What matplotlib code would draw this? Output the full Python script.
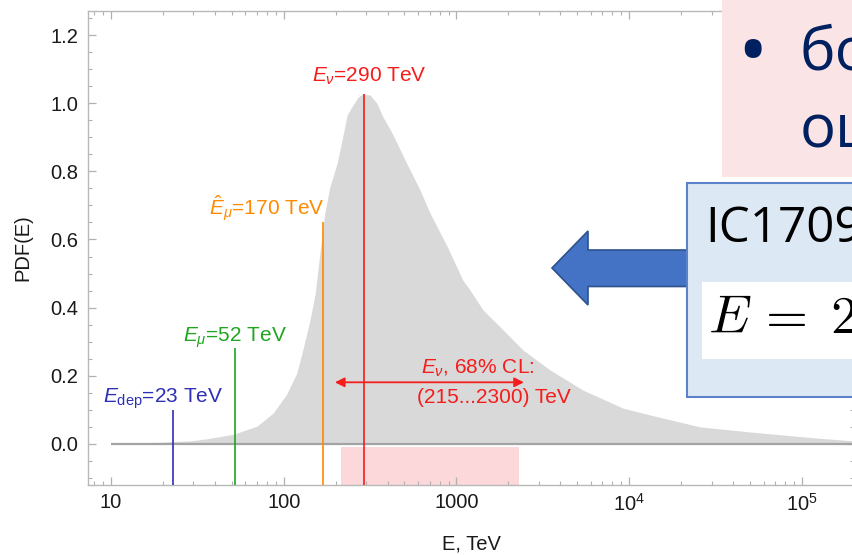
import matplotlib
matplotlib.use("Agg")
import matplotlib.pyplot as plt
from matplotlib.patches import Rectangle, Polygon
from matplotlib.ticker import FixedLocator, LogLocator, MultipleLocator, NullFormatter

plt.rcParams["font.family"] = ["Liberation Sans", "DejaVu Sans"]
plt.rcParams["mathtext.fontset"] = "custom"
plt.rcParams["mathtext.rm"] = "Liberation Sans"
plt.rcParams["mathtext.it"] = "Liberation Sans:italic"

# PDF of the neutrino energy
energy = [10, 20, 29, 36, 51, 70, 87, 104, 119, 129, 142, 152, 162, 173, 185,
          204, 222, 233, 248, 270, 287, 316, 346, 376, 424, 504, 615, 703, 883,
          1090, 1200, 1425, 1790, 2430, 3490, 5410, 9220, 13200, 25700, 50100,
          122000, 198000, 300000]
pdf = [0.0, 0.004, 0.008, 0.014, 0.027, 0.051, 0.09, 0.145, 0.207, 0.275, 0.363,
       0.44, 0.56, 0.678, 0.754, 0.825, 0.913, 0.966, 0.99, 1.019, 1.028, 1.025,
       1.001, 0.96, 0.913, 0.834, 0.746, 0.678, 0.58, 0.48, 0.451, 0.393, 0.343,
       0.275, 0.216, 0.157, 0.104, 0.084, 0.049, 0.034, 0.016, 0.008, 0.004]

# marker lines: energy, line top, label, label position, colour
markers = [
    (23, 0.10, r"$E_{\mathrm{dep}}$=23 TeV", 20, 0.12, "#2e2eb8"),
    (52, 0.28, r"$E_{\mu}$=52 TeV", 52, 0.30, "#1fa51f"),
    (170, 0.652, r"$\hat{E}_{\mu}$=170 TeV", 79.5, 0.669, "#ff8a00"),
    (290, 1.027, r"$E_{\nu}$=290 TeV", 314, 1.064, "#f51c1c"),
]
ci = [215, 2300]
ci_arrow = [198, 2460]
xticks = [10, 100, 1000, 1e4, 1e5]
xticklabels = ["10", "100", "1000", r"$10^4$", r"$10^5$"]
yticks = [0.0, 0.2, 0.4, 0.6, 0.8, 1.0, 1.2]

Y_MIN, Y_MAX = -0.122, 1.272
W, H = 853, 555
red = "#f51c1c"

fig = plt.figure(figsize=(W / 100, H / 100), dpi=100)
ax = fig.add_axes([88 / W, 1 - 485 / H, (854 - 88) / W, (485 - 11) / H])

ax.fill_between(energy, 0, pdf, color="#d9d9d9", lw=0, zorder=1)
ax.axvspan(ci[0], ci[1], ymin=0, ymax=(-0.01 - Y_MIN) / (Y_MAX - Y_MIN),
           color="#fdd8db", lw=0, zorder=1)
ax.hlines(0, energy[0], energy[-1], color="#a3a3a3", lw=1.6, zorder=2)

for e, top, label, lx, ly, c in markers:
    ax.vlines(e, Y_MIN, top, color=c, lw=1.2, zorder=3)
    ax.text(lx, ly, label, color=c, fontsize=15, ha="center", va="baseline", zorder=4)

ax.annotate("", xy=(ci_arrow[0], 0.18), xytext=(ci_arrow[1], 0.18),
            arrowprops=dict(arrowstyle="<|-|>", color=red, lw=1.3,
                            mutation_scale=14, shrinkA=0, shrinkB=0), zorder=4)
ax.text(1325, 0.206, r"$E_{\nu}$, 68% CL:", color=red, fontsize=15,
        ha="center", va="baseline", zorder=4)
ax.text(1641, 0.12, "(215...2300) TeV", color=red, fontsize=15,
        ha="center", va="baseline", zorder=4)

ax.set_xscale("log")
ax.set_xlim(7.36, 200500)
ax.set_ylim(Y_MIN, Y_MAX)
ax.xaxis.set_major_locator(FixedLocator(xticks))
ax.set_xticklabels(xticklabels)
ax.xaxis.set_minor_locator(LogLocator(base=10, subs=range(2, 10), numticks=20))
ax.xaxis.set_minor_formatter(NullFormatter())
ax.set_yticks(yticks)
ax.set_yticklabels([f"{v:.1f}" for v in yticks])
ax.yaxis.set_minor_locator(MultipleLocator(0.05))

for s in ax.spines.values():
    s.set_color("#b8b8b8")
    s.set_linewidth(1.0)
ax.tick_params(which="both", direction="in", top=True, right=True,
               color="#b0b0b0", labelsize=14.5, labelcolor="#1a1a1a")
ax.tick_params(which="major", length=6, width=0.9)
ax.tick_params(which="minor", length=3, width=0.8)
ax.tick_params(axis="x", pad=6)
ax.tick_params(axis="y", pad=7)

ax.set_xlabel("E, TeV", fontsize=14.5, color="#1a1a1a")
ax.xaxis.set_label_coords(0.5, -0.105)
ax.set_ylabel("PDF(E)", fontsize=14.5, color="#1a1a1a")
ax.yaxis.set_label_coords(-0.073, 0.5)


# slide overlays, in pixel positions of the picture
def fx(x):
    return x / W


def fy(y):
    return 1 - y / H


navy = "#002060"
fig.add_artist(Rectangle((fx(722), fy(177)), fx(140), 177 / H, transform=fig.transFigure,
                         facecolor="#fbe4e6", edgecolor="none", zorder=5))
fig.text(fx(752), fy(78), "\u2022", color=navy, fontsize=58, family="Open Sans",
         ha="center", va="baseline", zorder=6)
fig.text(fx(800), fy(70), "бо", color=navy, fontsize=43, family="Open Sans",
         ha="left", va="baseline", zorder=6)
fig.text(fx(800), fy(147), "оц", color=navy, fontsize=43, family="Open Sans",
         ha="left", va="baseline", zorder=6)

arrow_px = [(552, 268), (588, 231), (588, 250), (692, 250),
            (692, 286.5), (588, 286.5), (588, 305)]
fig.add_artist(Polygon([(fx(x), fy(y)) for x, y in arrow_px], closed=True,
                       transform=fig.transFigure, facecolor="#4472c4",
                       edgecolor="#2f528f", lw=1.2, zorder=5))

fig.add_artist(Rectangle((fx(687), fy(396.7)), fx(200), (396.7 - 183.3) / H,
                         transform=fig.transFigure, facecolor="#dde8f5",
                         edgecolor="#5b83c9", lw=1.5, zorder=6))
fig.add_artist(Rectangle((fx(702), fy(358.5)), fx(200), (358.5 - 282) / H,
                         transform=fig.transFigure, facecolor="white",
                         edgecolor="none", zorder=7))
fig.text(fx(705), fy(242), "IC1709", color="black", fontsize=35.5, family="Open Sans",
         ha="left", va="baseline", zorder=8)
fig.text(fx(708), fy(333), r"$E\,=\;2$", color="black", fontsize=39, math_fontfamily="cm",
         ha="left", va="baseline", zorder=8)

fig.savefig("out.png", dpi=100)
